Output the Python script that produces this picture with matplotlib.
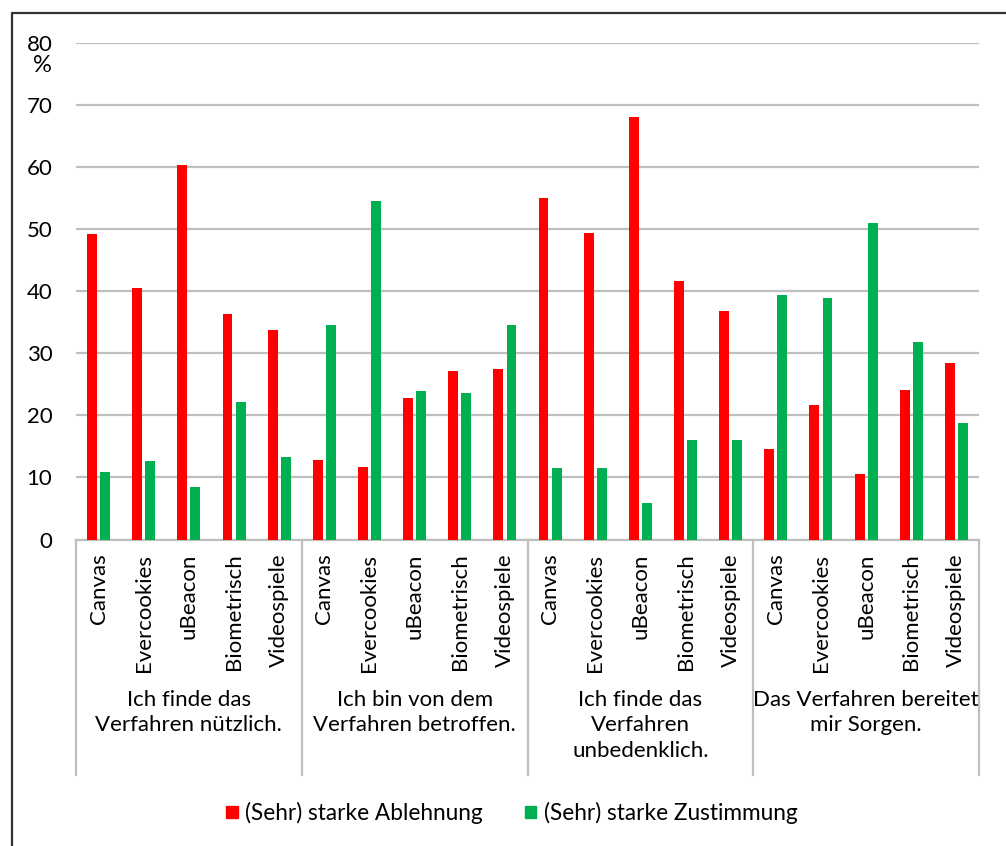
import matplotlib
matplotlib.use("Agg")
import matplotlib.pyplot as plt
import numpy as np
from matplotlib.lines import Line2D
from matplotlib.patches import Patch

plt.rcParams["font.family"] = ["Lato", "DejaVu Sans"]

methods = ["Canvas", "Evercookies", "uBeacon", "Biometrisch", "Videospiele"]
statements = [
    "Ich finde das\nVerfahren nützlich.",
    "Ich bin von dem\nVerfahren betroffen.",
    "Ich finde das\nVerfahren\nunbedenklich.",
    "Das Verfahren bereitet\nmir Sorgen.",
]
# one row per statement, one column per method
ablehnung = [
    [49.3, 40.5, 60.3, 36.4, 33.8],
    [12.8, 11.7, 22.8, 27.2, 27.4],
    [55.1, 49.4, 68.1, 41.6, 36.8],
    [14.6, 21.7, 10.6, 24.1, 28.4],
]
zustimmung = [
    [10.8, 12.7, 8.4, 22.2, 13.3],
    [34.6, 54.6, 23.9, 23.6, 34.5],
    [11.5, 11.5, 5.9, 16.0, 16.0],
    [39.4, 38.9, 51.0, 31.8, 18.7],
]
series_names = ["(Sehr) starke Ablehnung", "(Sehr) starke Zustimmung"]
y_ticks = [0, 10, 20, 30, 40, 50, 60, 70, 80]

RED = "#FF0000"
GREEN = "#00B050"
GRID = "#BFBFBF"
FS = 16

W, H = 1006, 846
fig = plt.figure(figsize=(W / 100, H / 100), dpi=100)
left, right, y0, y80 = 76, 979, 539.5, 43
ax = fig.add_axes([left / W, (H - y0) / H, (right - left) / W, (y0 - y80) / H])

n_groups = len(statements)
n_methods = len(methods)
x = np.arange(n_groups * n_methods)
red_vals = np.array(ablehnung).ravel()
green_vals = np.array(zustimmung).ravel()

bw = 0.22
ax.bar(x - 0.145, red_vals, width=bw, color=RED, zorder=3)
ax.bar(x + 0.145, green_vals, width=bw, color=GREEN, zorder=3)

ax.set_xlim(-0.5, len(x) - 0.5)
ax.set_ylim(0, 80)
ax.set_yticks(y_ticks)
ax.yaxis.grid(True, color=GRID, linewidth=1.6)
ax.set_axisbelow(True)
ax.tick_params(axis="y", length=0, pad=17, labelsize=FS)
ax.tick_params(axis="x", length=0)
ax.set_xticks([])
for s in ["top", "right", "left"]:
    ax.spines[s].set_visible(False)
ax.spines["bottom"].set_color(GRID)
ax.spines["bottom"].set_linewidth(1.6)

ax.annotate("%", xy=(0, 80), xycoords=("axes fraction", "data"),
            xytext=(-34, -23), textcoords="offset pixels",
            ha="center", va="center", fontsize=FS + 1)

# method labels, rotated under each bar pair
for i, xi in enumerate(x):
    ax.annotate(methods[i % n_methods], xy=(xi, 0),
                xycoords=("data", "axes fraction"),
                xytext=(0, -14), textcoords="offset pixels",
                rotation=90, ha="center", va="top", fontsize=FS)

# statement labels and separators between the groups
sep_depth = 235 / (y0 - y80)
for g in range(n_groups + 1):
    xs = g * n_methods - 0.5
    ax.add_line(Line2D([xs, xs], [0, -sep_depth], color=GRID, linewidth=1.6,
                       transform=ax.get_xaxis_transform(), clip_on=False))
for g, label in enumerate(statements):
    xc = g * n_methods + (n_methods - 1) / 2
    ax.annotate(label, xy=(xc, 0), xycoords=("data", "axes fraction"),
                xytext=(0, -150), textcoords="offset pixels",
                ha="center", va="top", fontsize=FS, linespacing=1.35)

handles = [Patch(color=RED), Patch(color=GREEN)]
fig.legend(handles, series_names, loc="center", bbox_to_anchor=(0.509, (H - 813) / H),
           ncol=2, frameon=False, fontsize=FS + 0.3, handlelength=0.5, handleheight=0.5,
           handletextpad=0.35, columnspacing=1.85)

# frame along the left and top edge
bx, by = 12 / W, 1 - 13 / H
fig.add_artist(Line2D([bx, bx, 1], [0, by, by], color="#333333", linewidth=1.6,
                      transform=fig.transFigure))

fig.savefig("out.png", dpi=100)
